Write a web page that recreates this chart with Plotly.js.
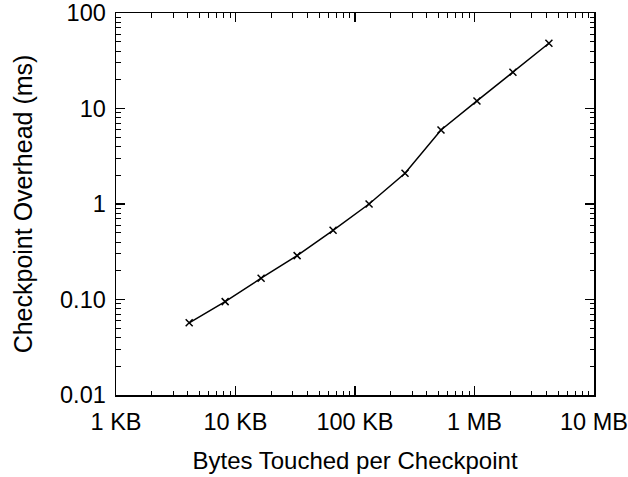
<!DOCTYPE html>
<html><head><meta charset="utf-8">
<script src="https://cdn.plot.ly/plotly-3.0.1.min.js"></script>
<style>html,body{margin:0;padding:0;background:#fff}</style>
</head><body>
<div id="chart" style="width:628px;height:477px"></div>
<script>
const bytesTouched = [4096, 8192, 16384, 32768, 65536, 131072, 262144, 524288, 1048576, 2097152, 4194304];
const overheadMs = [0.057, 0.095, 0.167, 0.288, 0.53, 1.0, 2.1, 5.95, 12.0, 24.0, 48.2];
const xTickVals = [1e3, 1e4, 1e5, 1e6, 1e7];
const xTickText = ["1 KB", "10 KB", "100 KB", "1 MB", "10 MB"];
const yTickVals = [0.01, 0.1, 1, 10, 100];
const yTickText = ["0.01", "0.10", "1", "10", "100"];

function minors(lo, hi) {
  const out = [];
  for (let e = lo; e < hi; e++) for (let m = 2; m <= 9; m++) out.push(m * Math.pow(10, e));
  return out;
}

const fam = "Liberation Sans, Arial, sans-serif";
const tickFont = {family: fam, size: 23.5, color: "#000"};
const xTitleFont = {family: fam, size: 24, color: "#000"};
const yTitleFont = {family: fam, size: 25, color: "#000"};
const axisCommon = {
  type: "log", showgrid: false, zeroline: false,
  showline: true, linecolor: "#000", linewidth: 1.5, mirror: "ticks",
  ticks: "inside", ticklen: 9, tickwidth: 1.3, tickcolor: "#000",
  tickmode: "array", tickfont: tickFont, ticklabeloverflow: "allow", automargin: false
};

const trace = {
  x: bytesTouched, y: overheadMs, type: "scatter", mode: "lines+markers",
  line: {color: "#000", width: 1.5},
  marker: {symbol: "x-thin", size: 7, line: {color: "#000", width: 1.5}, color: "#000"},
  showlegend: false
};

const layout = {
  width: 628, height: 477,
  margin: {l: 116, r: 34, t: 13, b: 82},
  paper_bgcolor: "#fff", plot_bgcolor: "#fff",
  font: tickFont,
  xaxis: Object.assign({}, axisCommon, {
    range: [3, 7], tickvals: xTickVals, ticktext: xTickText,
    ticklabelstandoff: 5,
    minor: {tickmode: "array", tickvals: minors(3, 7), ticks: "inside", ticklen: 4.5, tickwidth: 1, tickcolor: "#000", showgrid: false},
    title: {text: "Bytes Touched per Checkpoint", font: xTitleFont, standoff: 18}
  }),
  yaxis: Object.assign({}, axisCommon, {
    range: [-2, 2], tickvals: yTickVals, ticktext: yTickText,
    ticklabelstandoff: 4,
    minor: {tickmode: "array", tickvals: minors(-2, 2), ticks: "inside", ticklen: 4.5, tickwidth: 1, tickcolor: "#000", showgrid: false},
    title: {text: "Checkpoint Overhead (ms)", font: yTitleFont, standoff: 20}
  })
};

Plotly.newPlot("chart", [trace], layout, {displayModeBar: false, staticPlot: true});
</script>
</body></html>
